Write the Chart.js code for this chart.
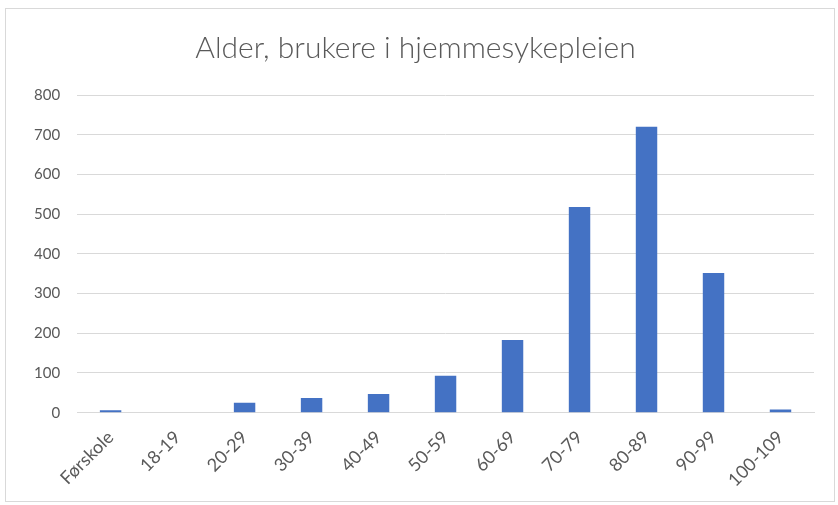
<!DOCTYPE html>
<html>
<head>
<meta charset="utf-8">
<script src="https://cdn.jsdelivr.net/npm/chart.js@4"></script>
<style>
  html, body { margin: 0; padding: 0; background: #fff; }
  #wrap { position: absolute; left: 5px; top: 8px; width: 830px; height: 494px; border: 1px solid #d9d9d9; box-sizing: border-box; }
</style>
</head>
<body>
<div id="wrap"><canvas id="alder"></canvas></div>
<script>
    var aldersgrupper = ["Førskole", "18-19", "20-29", "30-39", "40-49", "50-59", "60-69", "70-79", "80-89", "90-99", "100-109"];
    var antallBrukere = [6, 0, 25, 37, 47, 93, 183, 518, 720, 352, 8];
    var yTicks = [0, 100, 200, 300, 400, 500, 600, 700, 800];

    new Chart(document.getElementById("alder"), {
        type: 'bar',
        data: {
            labels: aldersgrupper,
            datasets: [{
                data: antallBrukere,
                label: "Antall",
                backgroundColor: "#4472c4",
                categoryPercentage: 1,
                barPercentage: 0.32
            }]
        },
        options: {
            responsive: true,
            maintainAspectRatio: false,
            animation: false,
            layout: { padding: { left: 11, right: 20, top: 16, bottom: 4 } },
            plugins: {
                legend: { display: false },
                tooltip: { enabled: false },
                title: {
                    display: true,
                    text: 'Alder, brukere i hjemmesykepleien',
                    color: '#595959',
                    font: { family: 'Lato', size: 30, weight: 300 },
                    padding: { top: 5, bottom: 29 }
                }
            },
            scales: {
                x: {
                    grid: { display: false },
                    border: { color: '#d9d9d9' },
                    ticks: {
                        color: '#595959',
                        font: { family: 'Lato', size: 18 },
                        maxRotation: 45,
                        minRotation: 45,
                        padding: 6
                    }
                },
                y: {
                    min: 0,
                    max: 800,
                    afterBuildTicks: function (axis) {
                        axis.ticks = yTicks.map(function (v) { return { value: v }; });
                    },
                    grid: { color: '#d9d9d9', drawTicks: false },
                    border: { display: false },
                    ticks: {
                        color: '#595959',
                        font: { family: 'Lato', size: 15 },
                        padding: 17
                    }
                }
            }
        }
    });
</script>
</body>
</html>
